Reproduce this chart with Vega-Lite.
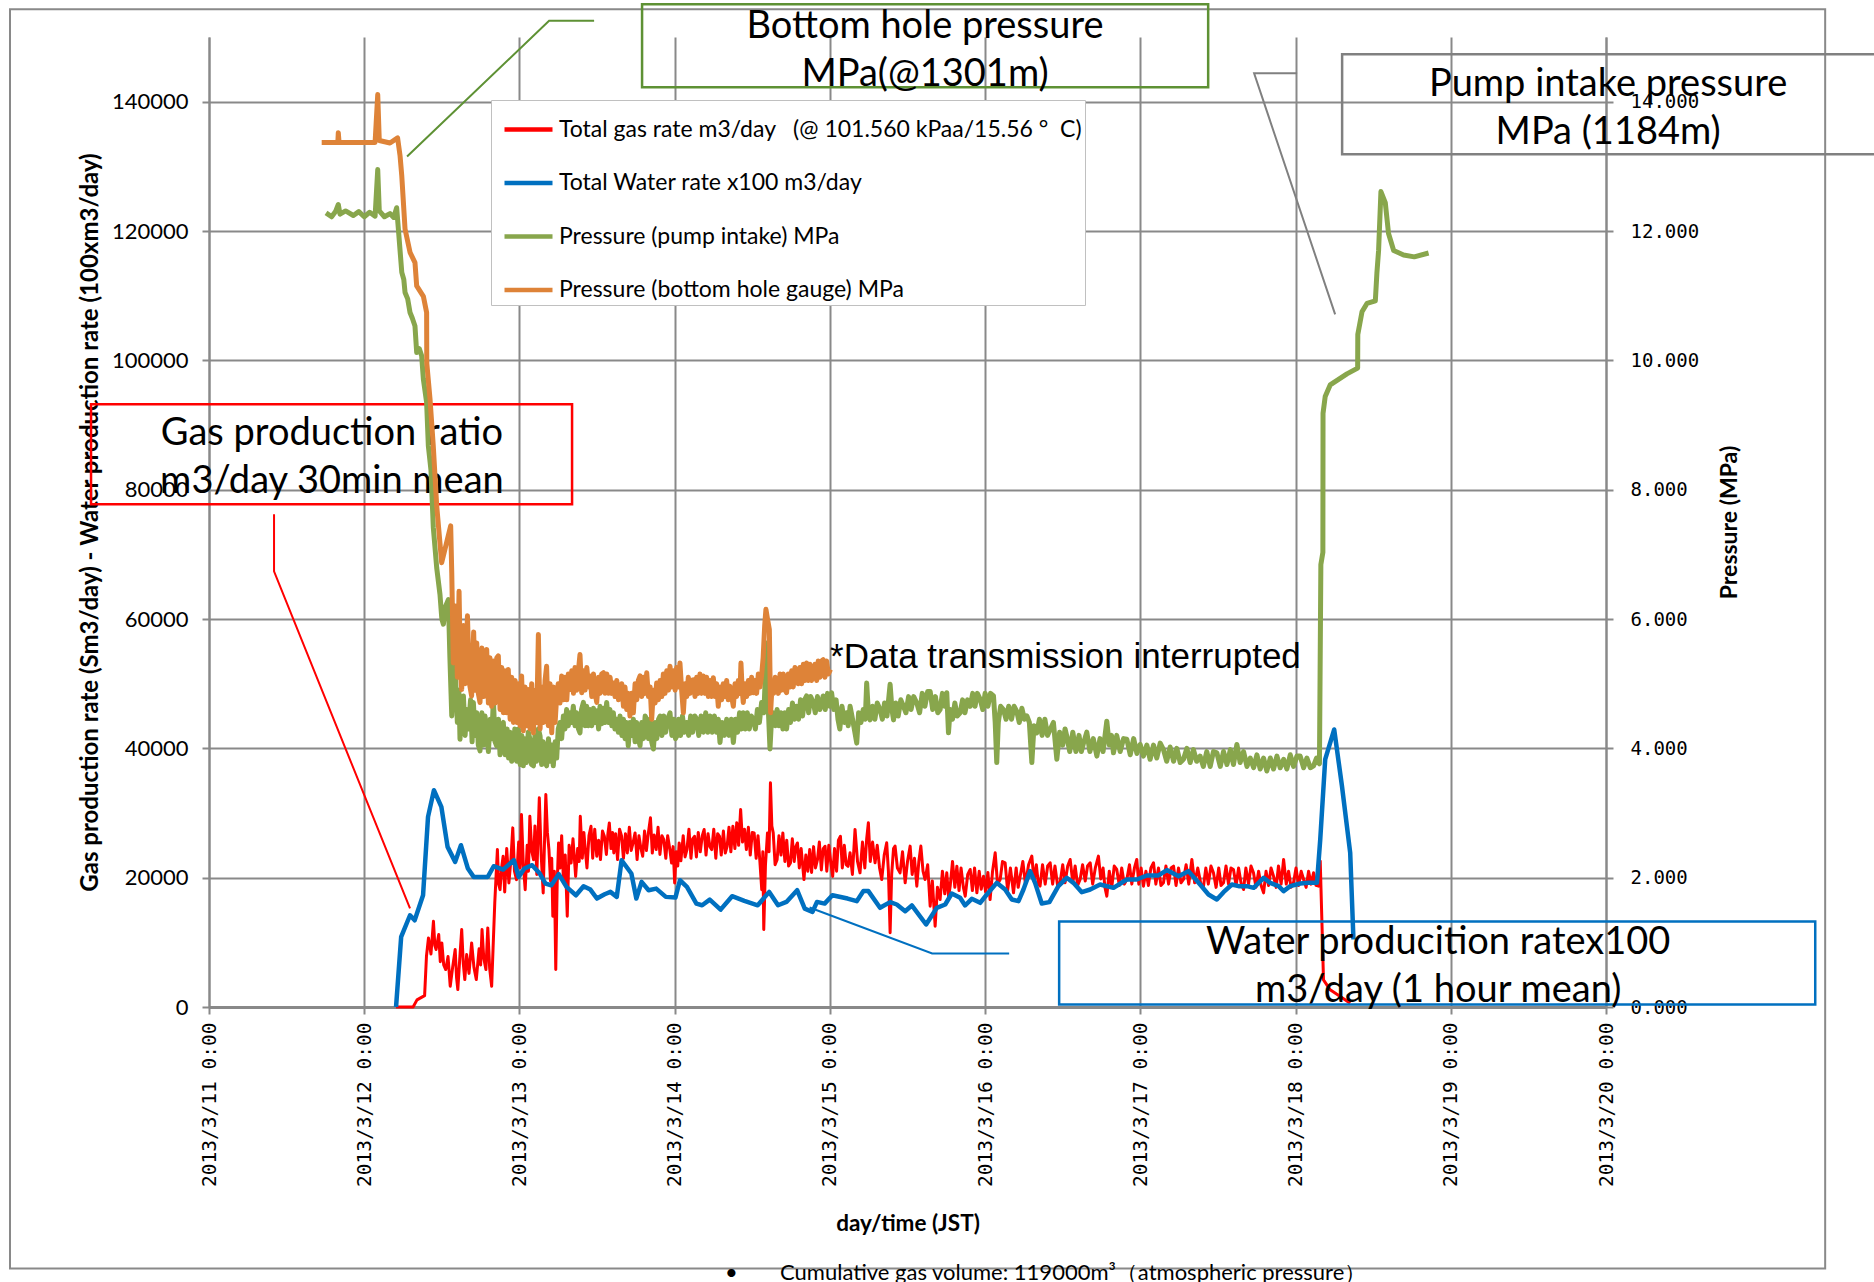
{
 "$schema": "https://vega.github.io/schema/vega-lite/v6.json",
 "width": 1397,
 "height": 970,
 "autosize": {"type": "none"},
 "padding": {"left": 209, "top": 37, "right": 268, "bottom": 275},
 "background": "white",
 "config": {
  "view": {"stroke": null},
  "legend": {"orient": "none", "legendX": 282, "legendY": 63, "fillColor": "white", "strokeColor": "#c0c0c0", "padding": 3, "symbolType": "stroke", "symbolSize": 2304, "symbolStrokeWidth": 4.5, "symbolOffset": 8, "labelOffset": 4, "labelFont": "Lato", "labelFontSize": 23, "labelColor": "black", "labelLimit": 900, "rowPadding": 14.5}
 },
 "datasets": {
  "gas": [
   {"day":1.205,"value":0},{"day":1.315,"value":0},{"day":1.340,"value":1100},{"day":1.389,"value":1760},{"day":1.401,"value":7850},{"day":1.414,"value":10680},{"day":1.430,"value":8200},{"day":1.446,"value":13260},{"day":1.455,"value":9500},{"day":1.463,"value":8880},{"day":1.480,"value":11200},{"day":1.490,"value":7000},{"day":1.500,"value":9910},{"day":1.512,"value":6500},{"day":1.525,"value":5790},{"day":1.540,"value":7800},{"day":1.554,"value":3210},{"day":1.570,"value":6200},{"day":1.586,"value":8880},{"day":1.595,"value":4500},{"day":1.603,"value":2690},{"day":1.615,"value":7300},{"day":1.628,"value":11970},{"day":1.638,"value":6800},{"day":1.648,"value":4240},{"day":1.660,"value":8100},{"day":1.675,"value":5200},{"day":1.692,"value":9910},{"day":1.707,"value":6100},{"day":1.722,"value":4240},{"day":1.740,"value":9000},{"day":1.750,"value":6500},{"day":1.759,"value":11970},{"day":1.770,"value":7600},{"day":1.784,"value":5790},{"day":1.796,"value":12230},{"day":1.808,"value":6000},{"day":1.821,"value":3210},{"day":1.830,"value":9000},{"day":1.841,"value":16090},{"day":1.850,"value":20500},{"day":1.858,"value":24340},{"day":1.866,"value":19000},{"day":1.875,"value":18150},{"day":1.885,"value":21500},{"day":1.895,"value":23310},{"day":1.905,"value":17800},{"day":1.918,"value":24500},{"day":1.932,"value":19190},{"day":1.945,"value":22800},{"day":1.957,"value":27700},{"day":1.968,"value":21000},{"day":1.981,"value":19700},{"day":1.995,"value":25500},{"day":2.005,"value":21500},{"day":2.013,"value":29760},{"day":2.025,"value":22000},{"day":2.037,"value":18150},{"day":2.050,"value":25000},{"day":2.058,"value":21000},{"day":2.067,"value":29500},{"day":2.080,"value":24000},{"day":2.091,"value":22790},{"day":2.100,"value":28000},{"day":2.112,"value":20500},{"day":2.120,"value":26500},{"day":2.128,"value":32340},{"day":2.140,"value":23500},{"day":2.153,"value":17630},{"day":2.162,"value":26000},{"day":2.170,"value":32860},{"day":2.180,"value":27000},{"day":2.190,"value":24340},{"day":2.200,"value":19500},{"day":2.208,"value":23000},{"day":2.215,"value":14030},{"day":2.225,"value":21000},{"day":2.234,"value":5790},{"day":2.243,"value":19000},{"day":2.252,"value":25370},{"day":2.262,"value":21500},{"day":2.272,"value":26500},{"day":2.284,"value":19190},{"day":2.295,"value":23500},{"day":2.308,"value":14030},{"day":2.320,"value":25000},{"day":2.333,"value":22270},{"day":2.345,"value":26000},{"day":2.362,"value":20200},{"day":2.375,"value":24500},{"day":2.385,"value":22500},{"day":2.392,"value":29500},{"day":2.405,"value":23000},{"day":2.415,"value":27000},{"day":2.424,"value":24340},{"day":2.435,"value":21500},{"day":2.448,"value":26500},{"day":2.461,"value":27950},{"day":2.472,"value":23000},{"day":2.485,"value":27500},{"day":2.498,"value":23310},{"day":2.510,"value":25800},{"day":2.522,"value":22800},{"day":2.535,"value":27200},{"day":2.547,"value":26400},{"day":2.560,"value":23600},{"day":2.570,"value":26800},{"day":2.579,"value":28470},{"day":2.590,"value":24500},{"day":2.600,"value":27000},{"day":2.608,"value":23830},{"day":2.620,"value":26800},{"day":2.632,"value":22800},{"day":2.645,"value":27500},{"day":2.658,"value":26400},{"day":2.670,"value":23000},{"day":2.683,"value":26800},{"day":2.695,"value":23830},{"day":2.708,"value":27800},{"day":2.720,"value":24200},{"day":2.733,"value":25500},{"day":2.745,"value":26920},{"day":2.758,"value":22800},{"day":2.770,"value":26500},{"day":2.782,"value":24600},{"day":2.794,"value":23310},{"day":2.806,"value":27200},{"day":2.818,"value":24200},{"day":2.830,"value":26800},{"day":2.844,"value":29250},{"day":2.856,"value":23800},{"day":2.868,"value":26600},{"day":2.881,"value":24340},{"day":2.893,"value":27800},{"day":2.905,"value":23600},{"day":2.918,"value":26500},{"day":2.930,"value":25880},{"day":2.943,"value":23000},{"day":2.955,"value":26500},{"day":2.968,"value":24500},{"day":2.980,"value":22270},{"day":2.990,"value":24800},{"day":3.000,"value":19190},{"day":3.010,"value":24000},{"day":3.020,"value":21800},{"day":3.029,"value":25370},{"day":3.040,"value":22600},{"day":3.055,"value":26500},{"day":3.067,"value":23200},{"day":3.079,"value":24340},{"day":3.092,"value":27500},{"day":3.105,"value":23000},{"day":3.116,"value":26000},{"day":3.128,"value":26400},{"day":3.140,"value":23200},{"day":3.152,"value":27000},{"day":3.165,"value":24000},{"day":3.178,"value":26500},{"day":3.190,"value":27440},{"day":3.202,"value":23500},{"day":3.215,"value":26800},{"day":3.227,"value":24800},{"day":3.239,"value":24340},{"day":3.252,"value":27500},{"day":3.265,"value":23000},{"day":3.277,"value":26800},{"day":3.289,"value":26400},{"day":3.300,"value":23500},{"day":3.314,"value":27200},{"day":3.326,"value":23800},{"day":3.338,"value":24860},{"day":3.350,"value":27800},{"day":3.362,"value":24000},{"day":3.375,"value":27950},{"day":3.388,"value":24500},{"day":3.400,"value":28500},{"day":3.412,"value":25000},{"day":3.425,"value":30530},{"day":3.437,"value":25500},{"day":3.450,"value":27500},{"day":3.462,"value":24340},{"day":3.475,"value":27800},{"day":3.487,"value":23500},{"day":3.500,"value":27000},{"day":3.512,"value":26920},{"day":3.525,"value":23000},{"day":3.537,"value":26500},{"day":3.549,"value":22500},{"day":3.561,"value":18150},{"day":3.568,"value":24000},{"day":3.574,"value":11970},{"day":3.585,"value":22000},{"day":3.598,"value":26920},{"day":3.608,"value":24000},{"day":3.617,"value":34660},{"day":3.626,"value":28000},{"day":3.635,"value":26920},{"day":3.647,"value":22000},{"day":3.660,"value":22790},{"day":3.672,"value":26500},{"day":3.685,"value":23500},{"day":3.697,"value":26920},{"day":3.710,"value":22500},{"day":3.722,"value":25800},{"day":3.734,"value":21800},{"day":3.746,"value":22270},{"day":3.758,"value":26000},{"day":3.770,"value":22500},{"day":3.781,"value":24800},{"day":3.791,"value":25370},{"day":3.803,"value":21500},{"day":3.815,"value":24500},{"day":3.825,"value":21800},{"day":3.833,"value":19700},{"day":3.845,"value":23500},{"day":3.858,"value":21000},{"day":3.870,"value":24340},{"day":3.882,"value":20800},{"day":3.895,"value":24800},{"day":3.907,"value":21500},{"day":3.920,"value":22790},{"day":3.932,"value":25500},{"day":3.945,"value":21200},{"day":3.957,"value":24500},{"day":3.969,"value":24860},{"day":3.980,"value":21000},{"day":3.993,"value":25000},{"day":4.005,"value":22500},{"day":4.018,"value":20200},{"day":4.030,"value":24500},{"day":4.043,"value":21000},{"day":4.055,"value":25800},{"day":4.068,"value":26400},{"day":4.080,"value":21500},{"day":4.093,"value":25000},{"day":4.105,"value":22000},{"day":4.117,"value":21750},{"day":4.130,"value":23850},{"day":4.145,"value":20500},{"day":4.162,"value":27460},{"day":4.178,"value":22500},{"day":4.194,"value":20750},{"day":4.210,"value":25500},{"day":4.225,"value":21500},{"day":4.237,"value":26000},{"day":4.248,"value":28490},{"day":4.260,"value":22500},{"day":4.275,"value":25500},{"day":4.291,"value":22300},{"day":4.305,"value":25000},{"day":4.320,"value":21500},{"day":4.334,"value":19720},{"day":4.350,"value":23500},{"day":4.366,"value":25390},{"day":4.377,"value":21000},{"day":4.388,"value":11470},{"day":4.398,"value":20500},{"day":4.410,"value":24500},{"day":4.420,"value":24880},{"day":4.435,"value":21500},{"day":4.452,"value":20750},{"day":4.468,"value":24000},{"day":4.485,"value":19210},{"day":4.500,"value":22500},{"day":4.517,"value":24880},{"day":4.530,"value":20500},{"day":4.545,"value":23000},{"day":4.560,"value":18690},{"day":4.573,"value":22500},{"day":4.586,"value":24880},{"day":4.600,"value":21000},{"day":4.613,"value":19720},{"day":4.630,"value":22000},{"day":4.646,"value":15590},{"day":4.660,"value":19500},{"day":4.678,"value":12500},{"day":4.693,"value":18500},{"day":4.710,"value":16620},{"day":4.725,"value":21000},{"day":4.740,"value":17500},{"day":4.753,"value":20750},{"day":4.765,"value":17000},{"day":4.775,"value":18690},{"day":4.790,"value":22500},{"day":4.805,"value":18500},{"day":4.818,"value":21780},{"day":4.832,"value":18000},{"day":4.845,"value":21500},{"day":4.860,"value":18500},{"day":4.872,"value":17140},{"day":4.888,"value":20500},{"day":4.904,"value":21270},{"day":4.918,"value":18000},{"day":4.932,"value":21500},{"day":4.947,"value":17650},{"day":4.962,"value":21000},{"day":4.975,"value":18200},{"day":4.990,"value":20230},{"day":5.003,"value":17800},{"day":5.018,"value":20800},{"day":5.032,"value":16620},{"day":5.048,"value":21000},{"day":5.065,"value":23850},{"day":5.080,"value":19000},{"day":5.097,"value":19720},{"day":5.112,"value":22500},{"day":5.129,"value":22300},{"day":5.145,"value":18000},{"day":5.163,"value":21500},{"day":5.183,"value":17650},{"day":5.200,"value":21500},{"day":5.213,"value":18500},{"day":5.226,"value":20230},{"day":5.243,"value":22500},{"day":5.260,"value":19000},{"day":5.280,"value":22000},{"day":5.301,"value":23330},{"day":5.315,"value":19500},{"day":5.330,"value":22000},{"day":5.343,"value":19000},{"day":5.354,"value":18690},{"day":5.370,"value":22000},{"day":5.387,"value":19000},{"day":5.403,"value":21800},{"day":5.419,"value":22300},{"day":5.435,"value":19000},{"day":5.450,"value":21800},{"day":5.467,"value":18800},{"day":5.483,"value":19210},{"day":5.500,"value":22000},{"day":5.515,"value":19200},{"day":5.532,"value":21800},{"day":5.548,"value":22820},{"day":5.565,"value":19200},{"day":5.580,"value":21800},{"day":5.596,"value":18800},{"day":5.612,"value":19720},{"day":5.628,"value":22000},{"day":5.645,"value":19500},{"day":5.660,"value":21800},{"day":5.677,"value":22300},{"day":5.693,"value":19000},{"day":5.710,"value":21500},{"day":5.730,"value":23330},{"day":5.745,"value":19800},{"day":5.760,"value":21500},{"day":5.772,"value":18500},{"day":5.784,"value":17140},{"day":5.800,"value":21000},{"day":5.816,"value":18500},{"day":5.832,"value":21800},{"day":5.848,"value":21270},{"day":5.865,"value":18800},{"day":5.880,"value":21500},{"day":5.897,"value":19000},{"day":5.913,"value":19720},{"day":5.930,"value":22000},{"day":5.945,"value":19000},{"day":5.962,"value":21500},{"day":5.977,"value":22820},{"day":5.990,"value":19000},{"day":6.005,"value":21500},{"day":6.020,"value":18690},{"day":6.036,"value":21000},{"day":6.052,"value":18800},{"day":6.068,"value":21500},{"day":6.085,"value":22300},{"day":6.100,"value":19000},{"day":6.117,"value":21500},{"day":6.133,"value":18800},{"day":6.149,"value":19210},{"day":6.165,"value":21800},{"day":6.182,"value":19000},{"day":6.198,"value":21500},{"day":6.214,"value":21780},{"day":6.230,"value":18800},{"day":6.246,"value":21500},{"day":6.262,"value":19200},{"day":6.278,"value":19720},{"day":6.295,"value":22000},{"day":6.312,"value":19000},{"day":6.332,"value":22820},{"day":6.350,"value":19200},{"day":6.370,"value":21500},{"day":6.390,"value":19000},{"day":6.407,"value":18690},{"day":6.422,"value":21500},{"day":6.438,"value":19000},{"day":6.455,"value":21800},{"day":6.471,"value":20750},{"day":6.488,"value":18500},{"day":6.505,"value":21500},{"day":6.520,"value":18800},{"day":6.536,"value":19210},{"day":6.552,"value":21800},{"day":6.568,"value":19000},{"day":6.584,"value":21500},{"day":6.600,"value":21270},{"day":6.617,"value":18800},{"day":6.633,"value":21500},{"day":6.650,"value":19000},{"day":6.665,"value":18170},{"day":6.680,"value":21500},{"day":6.697,"value":19000},{"day":6.713,"value":21800},{"day":6.729,"value":20750},{"day":6.745,"value":18500},{"day":6.762,"value":21000},{"day":6.778,"value":18800},{"day":6.794,"value":17650},{"day":6.810,"value":21000},{"day":6.826,"value":18800},{"day":6.842,"value":21500},{"day":6.858,"value":20230},{"day":6.875,"value":18500},{"day":6.890,"value":21800},{"day":6.907,"value":19000},{"day":6.923,"value":22820},{"day":6.940,"value":19000},{"day":6.955,"value":21000},{"day":6.971,"value":18500},{"day":6.987,"value":19210},{"day":7.003,"value":21500},{"day":7.020,"value":18800},{"day":7.036,"value":21000},{"day":7.052,"value":19720},{"day":7.068,"value":18500},{"day":7.084,"value":21000},{"day":7.100,"value":19000},{"day":7.116,"value":20750},{"day":7.132,"value":18800},{"day":7.148,"value":18690},{"day":7.159,"value":22560},{"day":7.170,"value":12970},{"day":7.180,"value":4200},{"day":7.223,"value":2650},{"day":7.288,"value":1620},{"day":7.352,"value":590}
  ],
  "water": [
   {"day":1.205,"value":0},{"day":1.238,"value":10840},{"day":1.295,"value":14190},{"day":1.325,"value":13410},{"day":1.379,"value":17280},{"day":1.411,"value":29400},{"day":1.449,"value":33530},{"day":1.497,"value":30950},{"day":1.537,"value":24760},{"day":1.586,"value":22440},{"day":1.623,"value":25020},{"day":1.668,"value":21410},{"day":1.705,"value":20120},{"day":1.796,"value":20120},{"day":1.834,"value":21770},{"day":1.895,"value":21250},{"day":1.964,"value":22700},{"day":1.995,"value":20120},{"day":2.032,"value":21410},{"day":2.082,"value":21930},{"day":2.131,"value":20640},{"day":2.168,"value":19090},{"day":2.205,"value":18830},{"day":2.253,"value":20540},{"day":2.303,"value":18570},{"day":2.364,"value":17280},{"day":2.413,"value":18680},{"day":2.457,"value":18160},{"day":2.499,"value":16770},{"day":2.549,"value":17440},{"day":2.586,"value":17800},{"day":2.627,"value":17030},{"day":2.658,"value":22700},{"day":2.721,"value":20640},{"day":2.753,"value":16770},{"day":2.787,"value":19350},{"day":2.832,"value":18060},{"day":2.881,"value":18310},{"day":2.943,"value":17030},{"day":3.005,"value":16920},{"day":3.034,"value":19600},{"day":3.079,"value":18570},{"day":3.140,"value":15990},{"day":3.177,"value":15730},{"day":3.226,"value":16610},{"day":3.296,"value":15060},{"day":3.370,"value":17130},{"day":3.449,"value":16410},{"day":3.535,"value":15730},{"day":3.609,"value":17800},{"day":3.666,"value":15730},{"day":3.720,"value":16250},{"day":3.789,"value":18060},{"day":3.838,"value":15220},{"day":3.888,"value":14700},{"day":3.917,"value":16250},{"day":3.966,"value":15990},{"day":4.016,"value":17280},{"day":4.114,"value":16770},{"day":4.173,"value":16370},{"day":4.216,"value":17920},{"day":4.248,"value":17920},{"day":4.323,"value":15340},{"day":4.388,"value":16220},{"day":4.431,"value":15850},{"day":4.485,"value":14820},{"day":4.528,"value":15700},{"day":4.620,"value":12760},{"day":4.689,"value":15340},{"day":4.743,"value":15850},{"day":4.785,"value":17550},{"day":4.839,"value":16880},{"day":4.871,"value":15700},{"day":4.914,"value":16730},{"day":4.968,"value":16110},{"day":5.011,"value":17400},{"day":5.075,"value":19200},{"day":5.129,"value":18170},{"day":5.172,"value":16620},{"day":5.215,"value":16370},{"day":5.247,"value":18170},{"day":5.290,"value":21010},{"day":5.322,"value":19200},{"day":5.365,"value":16010},{"day":5.414,"value":16220},{"day":5.472,"value":18690},{"day":5.526,"value":19980},{"day":5.569,"value":19200},{"day":5.623,"value":17760},{"day":5.677,"value":18170},{"day":5.741,"value":18940},{"day":5.827,"value":18430},{"day":5.913,"value":19720},{"day":5.977,"value":19720},{"day":6.042,"value":20340},{"day":6.117,"value":20340},{"day":6.171,"value":21170},{"day":6.246,"value":20230},{"day":6.310,"value":21010},{"day":6.385,"value":18940},{"day":6.439,"value":17400},{"day":6.493,"value":16620},{"day":6.536,"value":17760},{"day":6.590,"value":18940},{"day":6.633,"value":18690},{"day":6.687,"value":18690},{"day":6.730,"value":18430},{"day":6.794,"value":19980},{"day":6.837,"value":19200},{"day":6.891,"value":18690},{"day":6.923,"value":17920},{"day":6.966,"value":18690},{"day":7.030,"value":19100},{"day":7.084,"value":19200},{"day":7.138,"value":19200},{"day":7.159,"value":25900},{"day":7.191,"value":38280},{"day":7.249,"value":42920},{"day":7.299,"value":34150},{"day":7.352,"value":23850},{"day":7.373,"value":10440}
  ],
  "pip": [
   {"day":0.754,"mpa":12.28},{"day":0.790,"mpa":12.22},{"day":0.815,"mpa":12.30},{"day":0.833,"mpa":12.41},{"day":0.844,"mpa":12.26},{"day":0.880,"mpa":12.31},{"day":0.930,"mpa":12.24},{"day":0.965,"mpa":12.30},{"day":1.000,"mpa":12.22},{"day":1.035,"mpa":12.29},{"day":1.070,"mpa":12.23},{"day":1.087,"mpa":12.95},{"day":1.097,"mpa":12.31},{"day":1.130,"mpa":12.22},{"day":1.166,"mpa":12.27},{"day":1.190,"mpa":12.21},{"day":1.209,"mpa":12.36},{"day":1.220,"mpa":12.03},{"day":1.242,"mpa":11.36},{"day":1.255,"mpa":11.25},{"day":1.263,"mpa":11.05},{"day":1.280,"mpa":10.95},{"day":1.295,"mpa":10.74},{"day":1.310,"mpa":10.65},{"day":1.327,"mpa":10.53},{"day":1.338,"mpa":10.12},{"day":1.355,"mpa":10.18},{"day":1.370,"mpa":10.07},{"day":1.381,"mpa":9.71},{"day":1.402,"mpa":9.35},{"day":1.413,"mpa":8.68},{"day":1.430,"mpa":8.3},{"day":1.445,"mpa":7.42},{"day":1.467,"mpa":6.79},{"day":1.488,"mpa":6.38},{"day":1.500,"mpa":6.0},{"day":1.510,"mpa":5.92},{"day":1.525,"mpa":6.20},{"day":1.542,"mpa":6.30},{"day":1.552,"mpa":5.40},{"day":1.564,"mpa":4.50},{"day":1.575,"mpa":5.10},{"day":1.585,"mpa":5.32},{"day":1.600,"mpa":4.40},{"day":1.610,"mpa":4.90},{"day":1.617,"mpa":4.14},{"day":1.628,"mpa":4.70},{"day":1.639,"mpa":4.81},{"day":1.650,"mpa":4.20},{"day":1.660,"mpa":4.60},{"day":1.671,"mpa":4.30},{"day":1.685,"mpa":4.75},{"day":1.695,"mpa":4.10},{"day":1.703,"mpa":4.71},{"day":1.715,"mpa":4.20},{"day":1.725,"mpa":4.55},{"day":1.735,"mpa":4.05},{"day":1.746,"mpa":3.96},{"day":1.758,"mpa":4.55},{"day":1.768,"mpa":4.05},{"day":1.778,"mpa":4.50},{"day":1.789,"mpa":4.30},{"day":1.800,"mpa":3.95},{"day":1.812,"mpa":4.45},{"day":1.822,"mpa":4.15},{"day":1.832,"mpa":4.76},{"day":1.843,"mpa":4.10},{"day":1.853,"mpa":4.04},{"day":1.865,"mpa":4.45},{"day":1.875,"mpa":3.90},{"day":1.886,"mpa":4.35},{"day":1.896,"mpa":4.40},{"day":1.908,"mpa":3.90},{"day":1.920,"mpa":4.30},{"day":1.930,"mpa":3.85},{"day":1.940,"mpa":4.25},{"day":1.950,"mpa":3.80},{"day":1.961,"mpa":3.85},{"day":1.970,"mpa":4.30},{"day":1.983,"mpa":3.80},{"day":1.993,"mpa":4.30},{"day":2.005,"mpa":3.75},{"day":2.015,"mpa":4.20},{"day":2.025,"mpa":3.73},{"day":2.035,"mpa":4.15},{"day":2.045,"mpa":3.78},{"day":2.057,"mpa":4.25},{"day":2.068,"mpa":4.14},{"day":2.078,"mpa":3.75},{"day":2.090,"mpa":3.73},{"day":2.100,"mpa":4.20},{"day":2.110,"mpa":3.80},{"day":2.122,"mpa":4.30},{"day":2.133,"mpa":4.19},{"day":2.143,"mpa":3.75},{"day":2.153,"mpa":4.10},{"day":2.165,"mpa":3.78},{"day":2.175,"mpa":3.73},{"day":2.187,"mpa":4.15},{"day":2.197,"mpa":3.80},{"day":2.208,"mpa":4.05},{"day":2.218,"mpa":3.73},{"day":2.230,"mpa":4.10},{"day":2.240,"mpa":3.85},{"day":2.250,"mpa":4.30},{"day":2.261,"mpa":4.40},{"day":2.272,"mpa":4.15},{"day":2.283,"mpa":4.50},{"day":2.293,"mpa":4.30},{"day":2.304,"mpa":4.60},{"day":2.315,"mpa":4.35},{"day":2.326,"mpa":4.55},{"day":2.336,"mpa":4.40},{"day":2.347,"mpa":4.65},{"day":2.358,"mpa":4.35},{"day":2.368,"mpa":4.55},{"day":2.380,"mpa":4.30},{"day":2.390,"mpa":4.24},{"day":2.400,"mpa":4.60},{"day":2.412,"mpa":4.71},{"day":2.422,"mpa":4.35},{"day":2.433,"mpa":4.65},{"day":2.444,"mpa":4.35},{"day":2.455,"mpa":4.60},{"day":2.466,"mpa":4.35},{"day":2.477,"mpa":4.62},{"day":2.488,"mpa":4.40},{"day":2.500,"mpa":4.58},{"day":2.510,"mpa":4.30},{"day":2.519,"mpa":4.65},{"day":2.530,"mpa":4.38},{"day":2.541,"mpa":4.62},{"day":2.552,"mpa":4.40},{"day":2.562,"mpa":4.71},{"day":2.573,"mpa":4.40},{"day":2.583,"mpa":4.60},{"day":2.595,"mpa":4.35},{"day":2.605,"mpa":4.55},{"day":2.615,"mpa":4.30},{"day":2.626,"mpa":4.45},{"day":2.637,"mpa":4.25},{"day":2.648,"mpa":4.50},{"day":2.660,"mpa":4.20},{"day":2.670,"mpa":4.45},{"day":2.680,"mpa":4.15},{"day":2.690,"mpa":4.40},{"day":2.701,"mpa":4.04},{"day":2.712,"mpa":4.40},{"day":2.722,"mpa":4.20},{"day":2.734,"mpa":4.45},{"day":2.745,"mpa":4.10},{"day":2.755,"mpa":4.40},{"day":2.766,"mpa":4.15},{"day":2.777,"mpa":4.04},{"day":2.788,"mpa":4.40},{"day":2.799,"mpa":4.15},{"day":2.810,"mpa":4.50},{"day":2.820,"mpa":4.45},{"day":2.831,"mpa":4.15},{"day":2.842,"mpa":4.45},{"day":2.852,"mpa":4.10},{"day":2.863,"mpa":3.99},{"day":2.874,"mpa":4.40},{"day":2.885,"mpa":4.15},{"day":2.896,"mpa":4.45},{"day":2.906,"mpa":4.50},{"day":2.918,"mpa":4.20},{"day":2.930,"mpa":4.50},{"day":2.942,"mpa":4.25},{"day":2.955,"mpa":4.45},{"day":2.970,"mpa":4.55},{"day":2.982,"mpa":4.20},{"day":2.995,"mpa":4.45},{"day":3.005,"mpa":4.15},{"day":3.013,"mpa":4.19},{"day":3.025,"mpa":4.45},{"day":3.038,"mpa":4.20},{"day":3.050,"mpa":4.50},{"day":3.063,"mpa":4.25},{"day":3.077,"mpa":4.40},{"day":3.090,"mpa":4.20},{"day":3.103,"mpa":4.50},{"day":3.116,"mpa":4.25},{"day":3.130,"mpa":4.50},{"day":3.142,"mpa":4.45},{"day":3.155,"mpa":4.20},{"day":3.170,"mpa":4.50},{"day":3.185,"mpa":4.25},{"day":3.200,"mpa":4.55},{"day":3.214,"mpa":4.25},{"day":3.228,"mpa":4.50},{"day":3.242,"mpa":4.25},{"day":3.256,"mpa":4.50},{"day":3.270,"mpa":4.25},{"day":3.281,"mpa":4.45},{"day":3.292,"mpa":4.09},{"day":3.305,"mpa":4.40},{"day":3.320,"mpa":4.20},{"day":3.335,"mpa":4.45},{"day":3.350,"mpa":4.20},{"day":3.365,"mpa":4.45},{"day":3.378,"mpa":4.09},{"day":3.392,"mpa":4.45},{"day":3.405,"mpa":4.25},{"day":3.418,"mpa":4.55},{"day":3.430,"mpa":4.30},{"day":3.442,"mpa":4.55},{"day":3.455,"mpa":4.30},{"day":3.468,"mpa":4.55},{"day":3.481,"mpa":4.30},{"day":3.494,"mpa":4.50},{"day":3.507,"mpa":4.45},{"day":3.520,"mpa":4.30},{"day":3.533,"mpa":4.60},{"day":3.546,"mpa":4.40},{"day":3.560,"mpa":4.71},{"day":3.575,"mpa":4.55},{"day":3.592,"mpa":5.63},{"day":3.600,"mpa":4.80},{"day":3.614,"mpa":3.99},{"day":3.625,"mpa":4.50},{"day":3.635,"mpa":4.55},{"day":3.648,"mpa":4.35},{"day":3.660,"mpa":4.60},{"day":3.672,"mpa":4.35},{"day":3.685,"mpa":4.55},{"day":3.697,"mpa":4.30},{"day":3.710,"mpa":4.55},{"day":3.721,"mpa":4.30},{"day":3.734,"mpa":4.60},{"day":3.746,"mpa":4.40},{"day":3.759,"mpa":4.70},{"day":3.772,"mpa":4.45},{"day":3.785,"mpa":4.65},{"day":3.798,"mpa":4.45},{"day":3.811,"mpa":4.75},{"day":3.824,"mpa":4.50},{"day":3.837,"mpa":4.75},{"day":3.850,"mpa":4.81},{"day":3.863,"mpa":4.55},{"day":3.876,"mpa":4.80},{"day":3.893,"mpa":4.71},{"day":3.906,"mpa":4.55},{"day":3.920,"mpa":4.80},{"day":3.935,"mpa":4.60},{"day":3.957,"mpa":4.81},{"day":3.970,"mpa":4.60},{"day":3.985,"mpa":4.85},{"day":4.000,"mpa":4.65},{"day":4.011,"mpa":4.86},{"day":4.025,"mpa":4.60},{"day":4.040,"mpa":4.75},{"day":4.052,"mpa":4.45},{"day":4.064,"mpa":4.30},{"day":4.078,"mpa":4.65},{"day":4.093,"mpa":4.40},{"day":4.107,"mpa":4.55},{"day":4.118,"mpa":4.35},{"day":4.130,"mpa":4.65},{"day":4.150,"mpa":4.40},{"day":4.173,"mpa":4.08},{"day":4.185,"mpa":4.55},{"day":4.200,"mpa":4.40},{"day":4.215,"mpa":4.60},{"day":4.228,"mpa":4.45},{"day":4.237,"mpa":5.01},{"day":4.248,"mpa":4.55},{"day":4.259,"mpa":4.44},{"day":4.275,"mpa":4.65},{"day":4.290,"mpa":4.45},{"day":4.305,"mpa":4.70},{"day":4.323,"mpa":4.60},{"day":4.338,"mpa":4.45},{"day":4.352,"mpa":4.70},{"day":4.368,"mpa":4.50},{"day":4.388,"mpa":4.99},{"day":4.400,"mpa":4.60},{"day":4.410,"mpa":4.44},{"day":4.425,"mpa":4.70},{"day":4.440,"mpa":4.50},{"day":4.457,"mpa":4.75},{"day":4.474,"mpa":4.65},{"day":4.490,"mpa":4.55},{"day":4.507,"mpa":4.80},{"day":4.523,"mpa":4.60},{"day":4.540,"mpa":4.80},{"day":4.560,"mpa":4.70},{"day":4.578,"mpa":4.55},{"day":4.595,"mpa":4.85},{"day":4.612,"mpa":4.65},{"day":4.630,"mpa":4.88},{"day":4.646,"mpa":4.88},{"day":4.662,"mpa":4.60},{"day":4.680,"mpa":4.80},{"day":4.695,"mpa":4.55},{"day":4.710,"mpa":4.60},{"day":4.725,"mpa":4.85},{"day":4.740,"mpa":4.65},{"day":4.753,"mpa":4.86},{"day":4.764,"mpa":4.24},{"day":4.775,"mpa":4.60},{"day":4.790,"mpa":4.45},{"day":4.805,"mpa":4.70},{"day":4.820,"mpa":4.50},{"day":4.839,"mpa":4.55},{"day":4.855,"mpa":4.75},{"day":4.870,"mpa":4.55},{"day":4.887,"mpa":4.75},{"day":4.904,"mpa":4.65},{"day":4.920,"mpa":4.85},{"day":4.935,"mpa":4.65},{"day":4.950,"mpa":4.85},{"day":4.968,"mpa":4.76},{"day":4.985,"mpa":4.60},{"day":5.000,"mpa":4.85},{"day":5.018,"mpa":4.65},{"day":5.035,"mpa":4.85},{"day":5.054,"mpa":4.81},{"day":5.065,"mpa":4.40},{"day":5.075,"mpa":3.78},{"day":5.085,"mpa":4.40},{"day":5.100,"mpa":4.65},{"day":5.118,"mpa":4.60},{"day":5.135,"mpa":4.45},{"day":5.152,"mpa":4.65},{"day":5.170,"mpa":4.45},{"day":5.187,"mpa":4.65},{"day":5.204,"mpa":4.57},{"day":5.220,"mpa":4.40},{"day":5.237,"mpa":4.62},{"day":5.253,"mpa":4.45},{"day":5.269,"mpa":4.50},{"day":5.285,"mpa":4.40},{"day":5.301,"mpa":3.78},{"day":5.315,"mpa":4.35},{"day":5.333,"mpa":4.24},{"day":5.350,"mpa":4.45},{"day":5.367,"mpa":4.20},{"day":5.385,"mpa":4.45},{"day":5.402,"mpa":4.20},{"day":5.419,"mpa":4.29},{"day":5.440,"mpa":4.40},{"day":5.462,"mpa":3.83},{"day":5.480,"mpa":4.25},{"day":5.500,"mpa":4.05},{"day":5.515,"mpa":4.30},{"day":5.526,"mpa":4.19},{"day":5.545,"mpa":3.95},{"day":5.565,"mpa":4.25},{"day":5.585,"mpa":3.95},{"day":5.605,"mpa":4.20},{"day":5.620,"mpa":3.95},{"day":5.634,"mpa":4.08},{"day":5.655,"mpa":4.25},{"day":5.675,"mpa":3.95},{"day":5.697,"mpa":4.15},{"day":5.720,"mpa":3.88},{"day":5.740,"mpa":4.15},{"day":5.760,"mpa":3.95},{"day":5.784,"mpa":4.42},{"day":5.800,"mpa":4.05},{"day":5.814,"mpa":4.20},{"day":5.827,"mpa":3.93},{"day":5.848,"mpa":4.20},{"day":5.870,"mpa":3.95},{"day":5.892,"mpa":4.15},{"day":5.913,"mpa":4.14},{"day":5.935,"mpa":3.90},{"day":5.957,"mpa":4.15},{"day":5.978,"mpa":3.92},{"day":5.999,"mpa":4.06},{"day":6.020,"mpa":3.88},{"day":6.042,"mpa":4.05},{"day":6.063,"mpa":3.83},{"day":6.085,"mpa":4.05},{"day":6.106,"mpa":3.85},{"day":6.128,"mpa":4.08},{"day":6.149,"mpa":3.98},{"day":6.170,"mpa":3.80},{"day":6.192,"mpa":4.02},{"day":6.214,"mpa":3.80},{"day":6.235,"mpa":4.00},{"day":6.257,"mpa":3.78},{"day":6.278,"mpa":3.83},{"day":6.300,"mpa":4.00},{"day":6.321,"mpa":3.78},{"day":6.342,"mpa":3.98},{"day":6.363,"mpa":3.80},{"day":6.385,"mpa":3.88},{"day":6.406,"mpa":3.72},{"day":6.428,"mpa":3.95},{"day":6.450,"mpa":3.72},{"day":6.471,"mpa":3.95},{"day":6.493,"mpa":3.93},{"day":6.515,"mpa":3.72},{"day":6.536,"mpa":3.95},{"day":6.558,"mpa":3.75},{"day":6.580,"mpa":3.98},{"day":6.600,"mpa":3.75},{"day":6.622,"mpa":4.06},{"day":6.643,"mpa":3.78},{"day":6.665,"mpa":3.95},{"day":6.687,"mpa":3.72},{"day":6.708,"mpa":3.85},{"day":6.730,"mpa":3.70},{"day":6.751,"mpa":3.90},{"day":6.772,"mpa":3.68},{"day":6.794,"mpa":3.85},{"day":6.815,"mpa":3.65},{"day":6.837,"mpa":3.85},{"day":6.858,"mpa":3.68},{"day":6.880,"mpa":3.88},{"day":6.901,"mpa":3.70},{"day":6.923,"mpa":3.83},{"day":6.944,"mpa":3.68},{"day":6.966,"mpa":3.90},{"day":6.987,"mpa":3.72},{"day":7.009,"mpa":3.88},{"day":7.030,"mpa":3.88},{"day":7.052,"mpa":3.70},{"day":7.073,"mpa":3.85},{"day":7.095,"mpa":3.70},{"day":7.116,"mpa":3.73},{"day":7.135,"mpa":3.85},{"day":7.154,"mpa":3.76},{"day":7.163,"mpa":6.84},{"day":7.176,"mpa":7.03},{"day":7.177,"mpa":9.18},{"day":7.191,"mpa":9.44},{"day":7.223,"mpa":9.62},{"day":7.331,"mpa":9.79},{"day":7.400,"mpa":9.88},{"day":7.401,"mpa":10.40},{"day":7.428,"mpa":10.75},{"day":7.460,"mpa":10.88},{"day":7.514,"mpa":10.92},{"day":7.524,"mpa":11.35},{"day":7.535,"mpa":11.70},{"day":7.550,"mpa":12.61},{"day":7.578,"mpa":12.44},{"day":7.599,"mpa":11.96},{"day":7.632,"mpa":11.70},{"day":7.696,"mpa":11.63},{"day":7.765,"mpa":11.60},{"day":7.857,"mpa":11.66}
  ],
  "bhp": [
   {"day":0.726,"mpa":13.37},{"day":0.830,"mpa":13.37},{"day":0.833,"mpa":13.52},{"day":0.838,"mpa":13.37},{"day":1.070,"mpa":13.37},{"day":1.087,"mpa":14.11},{"day":1.097,"mpa":13.40},{"day":1.166,"mpa":13.36},{"day":1.215,"mpa":13.44},{"day":1.231,"mpa":13.16},{"day":1.242,"mpa":12.85},{"day":1.263,"mpa":12.03},{"day":1.295,"mpa":11.67},{"day":1.327,"mpa":11.51},{"day":1.338,"mpa":11.15},{"day":1.381,"mpa":10.99},{"day":1.402,"mpa":10.74},{"day":1.403,"mpa":9.96},{"day":1.424,"mpa":9.40},{"day":1.445,"mpa":8.67},{"day":1.467,"mpa":7.75},{"day":1.499,"mpa":6.87},{"day":1.557,"mpa":7.44},{"day":1.564,"mpa":6.71},{"day":1.574,"mpa":5.32},{"day":1.590,"mpa":6.20},{"day":1.600,"mpa":5.10},{"day":1.611,"mpa":6.43},{"day":1.620,"mpa":5.20},{"day":1.628,"mpa":4.91},{"day":1.640,"mpa":5.90},{"day":1.650,"mpa":5.00},{"day":1.665,"mpa":6.05},{"day":1.678,"mpa":5.00},{"day":1.692,"mpa":4.81},{"day":1.705,"mpa":5.80},{"day":1.715,"mpa":4.90},{"day":1.725,"mpa":5.63},{"day":1.735,"mpa":4.85},{"day":1.746,"mpa":4.71},{"day":1.758,"mpa":5.55},{"day":1.770,"mpa":4.80},{"day":1.789,"mpa":5.53},{"day":1.800,"mpa":4.70},{"day":1.810,"mpa":5.40},{"day":1.821,"mpa":4.65},{"day":1.832,"mpa":5.35},{"day":1.843,"mpa":4.70},{"day":1.854,"mpa":5.40},{"day":1.864,"mpa":5.43},{"day":1.875,"mpa":4.60},{"day":1.886,"mpa":5.25},{"day":1.896,"mpa":4.55},{"day":1.907,"mpa":5.20},{"day":1.917,"mpa":4.55},{"day":1.928,"mpa":5.22},{"day":1.940,"mpa":4.45},{"day":1.950,"mpa":5.10},{"day":1.961,"mpa":4.40},{"day":1.972,"mpa":5.05},{"day":1.983,"mpa":4.40},{"day":1.993,"mpa":5.00},{"day":2.004,"mpa":4.35},{"day":2.014,"mpa":5.12},{"day":2.025,"mpa":4.27},{"day":2.036,"mpa":4.95},{"day":2.046,"mpa":4.35},{"day":2.057,"mpa":4.91},{"day":2.068,"mpa":4.30},{"day":2.079,"mpa":5.00},{"day":2.090,"mpa":4.24},{"day":2.100,"mpa":4.90},{"day":2.111,"mpa":4.40},{"day":2.122,"mpa":5.76},{"day":2.133,"mpa":4.30},{"day":2.143,"mpa":4.95},{"day":2.155,"mpa":4.40},{"day":2.165,"mpa":5.05},{"day":2.175,"mpa":5.27},{"day":2.186,"mpa":4.35},{"day":2.197,"mpa":5.00},{"day":2.208,"mpa":4.24},{"day":2.219,"mpa":4.95},{"day":2.230,"mpa":4.40},{"day":2.240,"mpa":4.81},{"day":2.250,"mpa":5.00},{"day":2.261,"mpa":4.70},{"day":2.272,"mpa":5.12},{"day":2.283,"mpa":4.75},{"day":2.294,"mpa":5.10},{"day":2.305,"mpa":4.75},{"day":2.315,"mpa":5.15},{"day":2.326,"mpa":4.91},{"day":2.337,"mpa":5.20},{"day":2.348,"mpa":4.85},{"day":2.358,"mpa":5.25},{"day":2.369,"mpa":4.90},{"day":2.380,"mpa":5.20},{"day":2.390,"mpa":5.45},{"day":2.401,"mpa":4.86},{"day":2.412,"mpa":5.20},{"day":2.423,"mpa":4.90},{"day":2.434,"mpa":5.25},{"day":2.445,"mpa":4.95},{"day":2.455,"mpa":5.12},{"day":2.466,"mpa":4.80},{"day":2.477,"mpa":5.15},{"day":2.488,"mpa":4.85},{"day":2.498,"mpa":4.71},{"day":2.510,"mpa":5.10},{"day":2.520,"mpa":4.85},{"day":2.530,"mpa":5.15},{"day":2.541,"mpa":5.17},{"day":2.552,"mpa":4.85},{"day":2.563,"mpa":5.15},{"day":2.573,"mpa":4.85},{"day":2.584,"mpa":5.10},{"day":2.595,"mpa":4.85},{"day":2.605,"mpa":5.01},{"day":2.616,"mpa":4.80},{"day":2.627,"mpa":5.05},{"day":2.638,"mpa":4.75},{"day":2.648,"mpa":4.81},{"day":2.659,"mpa":5.00},{"day":2.670,"mpa":4.65},{"day":2.680,"mpa":4.95},{"day":2.691,"mpa":4.60},{"day":2.702,"mpa":4.85},{"day":2.712,"mpa":4.50},{"day":2.723,"mpa":4.85},{"day":2.734,"mpa":4.55},{"day":2.745,"mpa":5.00},{"day":2.756,"mpa":4.75},{"day":2.766,"mpa":5.05},{"day":2.777,"mpa":5.12},{"day":2.788,"mpa":4.80},{"day":2.799,"mpa":5.10},{"day":2.810,"mpa":4.85},{"day":2.820,"mpa":5.17},{"day":2.831,"mpa":4.80},{"day":2.842,"mpa":4.95},{"day":2.852,"mpa":4.45},{"day":2.863,"mpa":4.90},{"day":2.874,"mpa":4.70},{"day":2.884,"mpa":5.01},{"day":2.895,"mpa":4.75},{"day":2.906,"mpa":5.05},{"day":2.917,"mpa":4.80},{"day":2.927,"mpa":5.15},{"day":2.938,"mpa":4.85},{"day":2.949,"mpa":5.20},{"day":2.960,"mpa":4.90},{"day":2.970,"mpa":5.27},{"day":2.981,"mpa":4.95},{"day":2.992,"mpa":5.20},{"day":3.003,"mpa":4.90},{"day":3.013,"mpa":5.25},{"day":3.024,"mpa":4.95},{"day":3.034,"mpa":5.32},{"day":3.045,"mpa":4.90},{"day":3.056,"mpa":4.55},{"day":3.067,"mpa":5.00},{"day":3.078,"mpa":4.80},{"day":3.088,"mpa":5.10},{"day":3.099,"mpa":4.85},{"day":3.110,"mpa":5.05},{"day":3.120,"mpa":5.06},{"day":3.131,"mpa":4.80},{"day":3.142,"mpa":5.10},{"day":3.153,"mpa":4.85},{"day":3.163,"mpa":5.15},{"day":3.174,"mpa":4.85},{"day":3.185,"mpa":5.12},{"day":3.196,"mpa":4.85},{"day":3.206,"mpa":5.10},{"day":3.217,"mpa":4.80},{"day":3.228,"mpa":5.05},{"day":3.238,"mpa":4.80},{"day":3.249,"mpa":5.09},{"day":3.260,"mpa":4.80},{"day":3.270,"mpa":5.00},{"day":3.281,"mpa":4.65},{"day":3.292,"mpa":4.95},{"day":3.303,"mpa":4.75},{"day":3.313,"mpa":5.00},{"day":3.324,"mpa":4.80},{"day":3.335,"mpa":5.05},{"day":3.345,"mpa":4.75},{"day":3.356,"mpa":4.96},{"day":3.367,"mpa":4.80},{"day":3.378,"mpa":4.65},{"day":3.389,"mpa":5.00},{"day":3.399,"mpa":4.80},{"day":3.410,"mpa":5.05},{"day":3.421,"mpa":4.85},{"day":3.427,"mpa":5.32},{"day":3.435,"mpa":4.90},{"day":3.442,"mpa":4.71},{"day":3.453,"mpa":5.00},{"day":3.464,"mpa":4.80},{"day":3.475,"mpa":5.05},{"day":3.485,"mpa":4.85},{"day":3.496,"mpa":5.10},{"day":3.507,"mpa":4.86},{"day":3.518,"mpa":5.05},{"day":3.528,"mpa":4.85},{"day":3.539,"mpa":5.15},{"day":3.550,"mpa":4.95},{"day":3.560,"mpa":5.12},{"day":3.570,"mpa":5.40},{"day":3.580,"mpa":5.90},{"day":3.588,"mpa":6.15},{"day":3.598,"mpa":6.00},{"day":3.610,"mpa":5.84},{"day":3.618,"mpa":4.55},{"day":3.628,"mpa":5.00},{"day":3.638,"mpa":4.85},{"day":3.648,"mpa":5.10},{"day":3.657,"mpa":5.06},{"day":3.668,"mpa":4.85},{"day":3.679,"mpa":5.15},{"day":3.690,"mpa":4.90},{"day":3.700,"mpa":5.15},{"day":3.711,"mpa":4.90},{"day":3.721,"mpa":4.86},{"day":3.732,"mpa":5.15},{"day":3.743,"mpa":4.95},{"day":3.754,"mpa":5.20},{"day":3.764,"mpa":4.95},{"day":3.775,"mpa":5.25},{"day":3.785,"mpa":5.22},{"day":3.796,"mpa":5.00},{"day":3.807,"mpa":5.25},{"day":3.818,"mpa":5.00},{"day":3.829,"mpa":5.30},{"day":3.839,"mpa":5.05},{"day":3.850,"mpa":5.32},{"day":3.861,"mpa":5.05},{"day":3.872,"mpa":5.30},{"day":3.882,"mpa":5.05},{"day":3.893,"mpa":5.12},{"day":3.904,"mpa":5.30},{"day":3.915,"mpa":5.05},{"day":3.925,"mpa":5.35},{"day":3.936,"mpa":5.10},{"day":3.947,"mpa":5.35},{"day":3.957,"mpa":5.37},{"day":3.968,"mpa":5.10},{"day":3.979,"mpa":5.35},{"day":3.990,"mpa":5.15},{"day":4.004,"mpa":5.22}
  ],
  "boxes": [
   {"note":"bhp","day":2.790,"day2":6.437,"value":155070,"value2":142220},
   {"note":"pip","day":7.300,"day2":11.0,"value":147330,"value2":131860},
   {"note":"gas","day":-0.760,"day2":2.339,"value":93200,"value2":77730},
   {"note":"water","day":5.477,"day2":10.348,"value":13230,"value2":390}
  ],
  "callouts": [
   {"note":"bhp","seq":1,"day":2.481,"value":152520},{"note":"bhp","seq":2,"day":2.191,"value":152520},{"note":"bhp","seq":3,"day":1.276,"value":131510},
   {"note":"pip","seq":1,"day":7.010,"value":144390},{"note":"pip","seq":2,"day":6.733,"value":144390},{"note":"pip","seq":3,"day":7.255,"value":107110},
   {"note":"gas","seq":1,"day":0.419,"value":76180},{"note":"gas","seq":2,"day":0.419,"value":67360},{"note":"gas","seq":3,"day":1.295,"value":15240},
   {"note":"water","seq":1,"day":5.155,"value":8280},{"note":"water","seq":2,"day":4.659,"value":8280},{"note":"water","seq":3,"day":3.869,"value":15390}
  ],
  "labels": [
   {"note":"bhp","day":4.613,"value":151570,"text":"Bottom hole pressure\nMPa(@1301m)"},
   {"note":"pip","day":9.014,"value":142590,"text":"Pump intake pressure\nMPa (1184m)"},
   {"note":"gas","day":0.792,"value":88610,"text":"Gas production ratio\nm3/day 30min mean"},
   {"note":"water","day":7.919,"value":9880,"text":"Water producition ratex100\nm3/day (1 hour mean)"}
  ],
  "remarks": [
   {"day":4.001,"value":54160,"text":"*Data transmission interrupted"}
  ],
  "footnote": [
   {"day":3.325,"value":-41070,"text":"•"},
   {"day":3.679,"value":-41070,"text":"Cumulative gas volume: 119000m³（atmospheric pressure）"}
  ],
  "frame": [
   {"day":-1.282,"day2":10.412,"value":154290,"value2":-40450}
  ]
 },
 "encoding": {
  "x": {"field": "day", "type": "quantitative", "scale": {"domain": [0, 9], "nice": false, "zero": false},
   "axis": {"values": [0,1,2,3,4,5,6,7,8,9], "labelExpr": "'2013/3/' + (11 + datum.value) + ' 0:00'", "labelAngle": 270, "labelFont": "DejaVu Sans Mono", "labelFontSize": 19.5, "labelColor": "black", "labelPadding": 8, "labelFlush": false, "labelOverlap": false, "labelBound": false, "tickSize": 7, "tickColor": "#898989", "tickWidth": 2, "domainColor": "#898989", "domainWidth": 3, "grid": true, "gridColor": "#898989", "gridWidth": 2, "title": "day/time (JST)", "titleFont": "Lato", "titleFontSize": 22.5, "titleFontWeight": "bold", "titleColor": "black", "titlePadding": 26}}
 },
 "layer": [
  {
   "encoding": {"y": {"field": "value", "type": "quantitative", "scale": {"domain": [0, 150000], "nice": false, "zero": false},
    "axis": {"orient": "left", "values": [0,20000,40000,60000,80000,100000,120000,140000], "format": "d", "labelFont": "Lato", "labelFontSize": 22, "labelColor": "black", "labelPadding": 14, "tickSize": 7, "tickColor": "#898989", "tickWidth": 2, "domainColor": "#898989", "domainWidth": 2, "grid": true, "gridColor": "#898989", "gridWidth": 2, "title": "Gas production  rate (Sm3/day)  - Water production rate (100xm3/day)", "titleFont": "Lato", "titleFontSize": 24, "titleFontWeight": "bold", "titleColor": "black", "titlePadding": 9}}},
   "layer": [
    {"data": {"name": "frame"}, "mark": {"type": "rect", "fillOpacity": 0, "stroke": "#898989", "strokeWidth": 2}, "encoding": {"x2": {"field": "day2"}, "y2": {"field": "value2"}}},
    {"data": {"name": "gas"}, "mark": {"type": "line", "strokeWidth": 3, "strokeJoin": "round"},
     "encoding": {"color": {"datum": "Total gas rate m3/day\u00a0\u00a0 (@ 101.560 kPaa/15.56 °\u00a0\u00a0C)", "type": "nominal", "scale": {"domain": ["Total gas rate m3/day\u00a0\u00a0 (@ 101.560 kPaa/15.56 °\u00a0\u00a0C)", "Total Water rate x100 m3/day", "Pressure (pump intake) MPa", "Pressure (bottom hole gauge) MPa"], "range": ["#FF0000", "#0070C0", "#88A64C", "#DE8338"]}, "legend": {"title": null}}}},
    {"data": {"name": "water"}, "mark": {"type": "line", "strokeWidth": 4.5, "strokeJoin": "round"},
     "encoding": {"color": {"datum": "Total Water rate x100 m3/day", "type": "nominal", "legend": {"title": null}}}},
    {"data": {"name": "boxes"}, "mark": {"type": "rect", "fillOpacity": 0, "strokeWidth": 2.5},
     "encoding": {"x2": {"field": "day2"}, "y2": {"field": "value2"}, "stroke": {"field": "note", "type": "nominal", "scale": {"domain": ["bhp", "pip", "gas", "water"], "range": ["#5E9134", "#808080", "#FF0000", "#0070C0"]}, "legend": null}}},
    {"data": {"name": "callouts"}, "mark": {"type": "line", "strokeWidth": 2},
     "encoding": {"stroke": {"field": "note", "type": "nominal", "legend": null}, "order": {"field": "seq", "type": "quantitative"}}},
    {"data": {"name": "labels"}, "mark": {"type": "text", "font": "Lato", "fontSize": 38, "lineBreak": "\n", "lineHeight": 48, "align": "center", "baseline": "middle", "color": "black"},
     "encoding": {"text": {"field": "text"}}},
    {"data": {"name": "remarks"}, "mark": {"type": "text", "font": "Liberation Sans", "fontSize": 35, "align": "left", "baseline": "middle", "color": "black"},
     "encoding": {"text": {"field": "text"}}},
    {"data": {"name": "footnote"}, "mark": {"type": "text", "font": "Lato", "fontSize": 22, "align": "left", "baseline": "middle", "color": "black"},
     "encoding": {"text": {"field": "text"}}}
   ]
  },
  {
   "encoding": {"y": {"field": "mpa", "type": "quantitative", "scale": {"domain": [0, 15], "nice": false, "zero": false},
    "axis": {"orient": "right", "values": [0,2,4,6,8,10,12,14], "format": ".3f", "labelFont": "DejaVu Sans Mono", "labelFontSize": 19, "labelColor": "black", "labelPadding": 17, "tickSize": 7, "tickColor": "#898989", "tickWidth": 2, "domainColor": "#898989", "domainWidth": 2, "grid": false, "title": "Pressure (MPa)", "titleAngle": 270, "titleFont": "Lato", "titleFontSize": 23, "titleFontWeight": "bold", "titleColor": "black", "titlePadding": 43}}},
   "layer": [
    {"data": {"name": "pip"}, "mark": {"type": "line", "strokeWidth": 5, "strokeJoin": "round"},
     "encoding": {"color": {"datum": "Pressure (pump intake) MPa", "type": "nominal", "legend": {"title": null}}}},
    {"data": {"name": "bhp"}, "mark": {"type": "line", "strokeWidth": 5, "strokeJoin": "round"},
     "encoding": {"color": {"datum": "Pressure (bottom hole gauge) MPa", "type": "nominal", "legend": {"title": null}}}}
   ]
  }
 ],
 "resolve": {"scale": {"y": "independent"}}
}
